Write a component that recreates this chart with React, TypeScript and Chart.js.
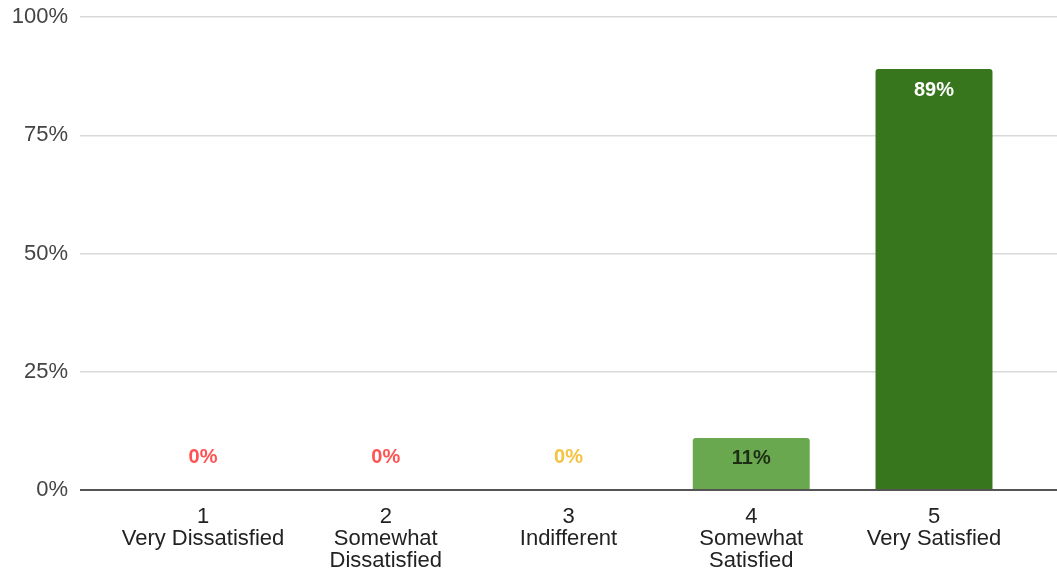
import React, { useEffect, useRef } from "react";
import { Chart, registerables } from "chart.js";

Chart.register(...registerables);

const categoryNumbers = [1, 2, 3, 4, 5];
const categoryNames = [
  ["Very Dissatisfied"],
  ["Somewhat", "Dissatisfied"],
  ["Indifferent"],
  ["Somewhat", "Satisfied"],
  ["Very Satisfied"],
];
const values = [0, 0, 0, 0.11, 0.89];
const barColors = ["#e06666", "#e06666", "#f1c232", "#6aa84f", "#38761d"];
const labelColors = ["#ff5252", "#ff5252", "#f5c342", "#1d2e14", "#ffffff"];
const yTicks = [0, 0.25, 0.5, 0.75, 1];

const FONT = "'Liberation Sans', Arial, sans-serif";

const barLabelPlugin = {
  id: "barLabels",
  afterDatasetsDraw(chart: any) {
    const ctx = chart.ctx;
    const meta = chart.getDatasetMeta(0);
    ctx.save();
    ctx.font = `bold 20px ${FONT}`;
    ctx.textAlign = "center";
    ctx.textBaseline = "middle";
    meta.data.forEach((bar: any, i: number) => {
      const v = values[i];
      const h = bar.base - bar.y;
      const y = h > 40 ? bar.y + 21 : bar.base - 33;
      ctx.fillStyle = labelColors[i];
      ctx.fillText(Math.round(v * 100) + "%", bar.x, y);
    });
    ctx.restore();
  },
};

export default function App() {
  const ref = useRef<HTMLCanvasElement | null>(null);
  useEffect(() => {
    document.body.style.margin = "0";
    const chart = new Chart(ref.current!, {
      type: "bar",
      data: {
        datasets: [
          {
            data: categoryNumbers.map((x, i) => ({ x, y: values[i] })),
            backgroundColor: barColors,
            borderRadius: 3,
            barPercentage: 0.64,
            categoryPercentage: 1,
          },
        ],
      },
      plugins: [barLabelPlugin],
      options: {
        animation: false,
        responsive: false,
        maintainAspectRatio: false,
        layout: { padding: { top: 17, left: 0, right: 0, bottom: 0 } },
        plugins: { legend: { display: false }, tooltip: { enabled: false } },
        scales: {
          x: {
            type: "linear",
            min: 0.327,
            max: 5.673,
            offset: false,
            grid: { display: false, drawTicks: false },
            border: { display: false },
            afterBuildTicks: (scale: any) => {
              scale.ticks = categoryNumbers.map((v) => ({ value: v }));
            },
            afterFit: (scale: any) => {
              scale.height = 79;
              scale.paddingLeft = 0;
              scale.paddingRight = 0;
            },
            ticks: {
              autoSkip: false,
              maxRotation: 0,
              padding: 16,
              color: "#222",
              font: { family: FONT, size: 22, lineHeight: 1.0 },
              callback: (v: any) => {
                const i = categoryNumbers.indexOf(Number(v));
                return i >= 0 ? [String(categoryNumbers[i]), ...categoryNames[i]] : "";
              },
            },
          },
          y: {
            min: 0,
            max: 1,
            afterBuildTicks: (scale: any) => {
              scale.ticks = yTicks.map((v) => ({ value: v }));
            },
            afterFit: (scale: any) => {
              scale.width = 80;
              scale.paddingTop = 0;
              scale.paddingBottom = 0;
            },
            grid: {
              drawTicks: false,
              color: (c: any) => (c.tick && c.tick.value === 0 ? "#555" : "#d9d9d9"),
              lineWidth: (c: any) => (c.tick && c.tick.value === 0 ? 2 : 1.5),
            },
            border: { display: false },
            ticks: {
              padding: 12,
              color: "#444",
              font: { family: FONT, size: 22 },
              callback: (v: any) => Math.round(Number(v) * 100) + "%",
            },
          },
        },
      },
    } as any);
    return () => chart.destroy();
  }, []);
  return (
    <div style={{ width: 1057, height: 569 }}>
      <canvas ref={ref} width={1057} height={569} style={{ width: 1057, height: 569 }} />
    </div>
  );
}
